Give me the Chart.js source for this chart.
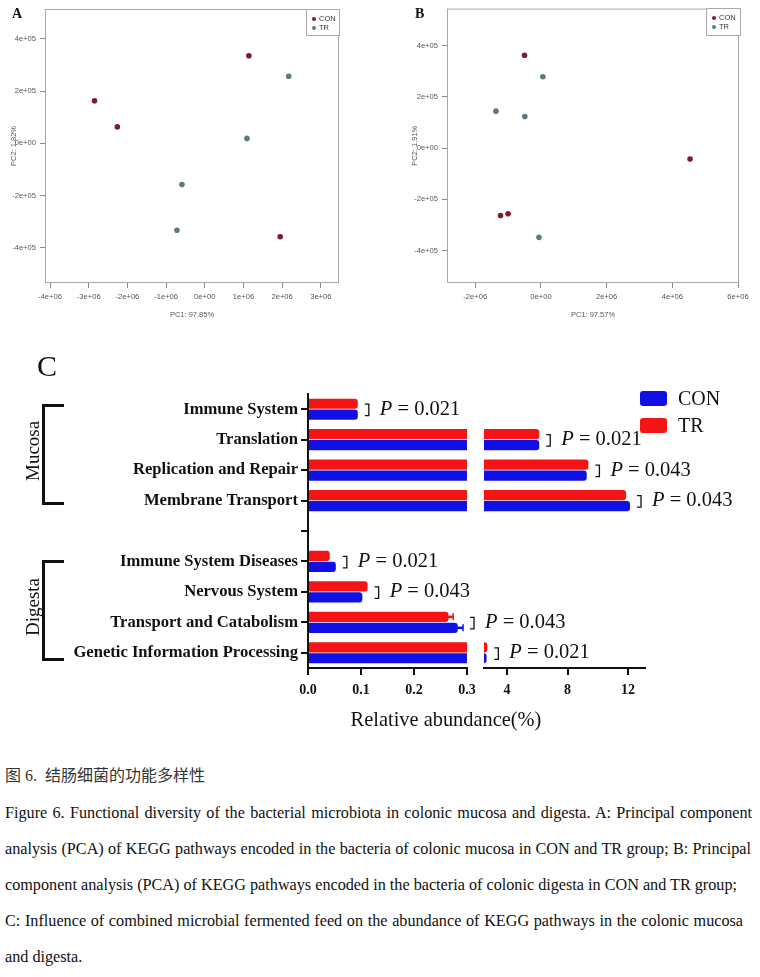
<!DOCTYPE html>
<html><head><meta charset="utf-8">
<script src="https://cdn.jsdelivr.net/npm/chart.js@4.4.0/dist/chart.umd.min.js"></script>
<style>
html,body{margin:0;padding:0;background:#fff;}
body{width:760px;height:977px;position:relative;overflow:hidden;font-family:"Liberation Serif","Times New Roman",serif;color:#111;}
.abs{position:absolute;}
canvas{display:block;}
.lg{position:absolute;background:#fff;border:1px solid #aaa;font-family:"Liberation Sans",Arial,sans-serif;font-size:7.5px;color:#333;}
.lg .it{position:absolute;left:0;height:9px;line-height:9px;white-space:nowrap;}
.lg .dot{position:absolute;width:4px;height:4px;border-radius:50%;top:2.5px;}
.cap{position:absolute;left:5px;white-space:nowrap;font-size:16.2px;line-height:20px;color:#111;text-align:justify;text-align-last:justify;}
</style></head><body>

<div class="abs" style="left:0;top:0;"><canvas id="cA" width="380" height="330" style="width:380px;height:330px"></canvas></div>
<div class="abs" style="left:380px;top:0;"><canvas id="cB" width="380" height="330" style="width:380px;height:330px"></canvas></div>
<div class="abs" style="left:0;top:380px;"><canvas id="cCL" width="760" height="365" style="width:760px;height:365px"></canvas></div>
<div class="abs" style="left:0;top:380px;"><canvas id="cCR" width="760" height="365" style="width:760px;height:365px"></canvas></div>

<!-- panel letters -->
<div class="abs" style="left:12px;top:6px;font-weight:bold;font-size:14px;">A</div>
<div class="abs" style="left:415px;top:6px;font-weight:bold;font-size:14px;">B</div>
<div class="abs" style="left:37px;top:349px;font-size:30px;">C</div>

<!-- PCA legends -->
<div class="lg" style="left:306px;top:9px;width:32px;height:25px;">
  <div class="dot" style="left:5px;top:7px;background:#7d1b2f"></div><div class="it" style="left:12px;top:4px">CON</div>
  <div class="dot" style="left:5px;top:16px;background:#5d7a82"></div><div class="it" style="left:12px;top:13px">TR</div>
</div>
<div class="lg" style="left:706px;top:8px;width:33px;height:26px;">
  <div class="dot" style="left:5px;top:7px;background:#7d1b2f"></div><div class="it" style="left:12px;top:4px">CON</div>
  <div class="dot" style="left:5px;top:16px;background:#5d7a82"></div><div class="it" style="left:12px;top:13px">TR</div>
</div>

<!-- Panel C legend -->
<div class="abs" style="left:640px;top:391px;width:27px;height:15px;background:#1010e6;border-radius:3px;"></div>
<div class="abs" style="left:678px;top:386px;font-size:20px;line-height:24px;">CON</div>
<div class="abs" style="left:640px;top:418px;width:27px;height:15px;background:#f51414;border-radius:3px;"></div>
<div class="abs" style="left:678px;top:413px;font-size:20px;line-height:24px;">TR</div>

<!-- group brackets -->
<div class="abs" style="left:42px;top:404px;width:19px;height:95px;border:3px solid #111;border-right:none;"></div>
<div class="abs" style="left:4px;top:440px;width:58px;height:24px;transform:rotate(-90deg);transform-origin:50% 50%;font-size:19px;line-height:24px;text-align:center;">Mucosa</div>
<div class="abs" style="left:42px;top:560px;width:19px;height:95px;border:3px solid #111;border-right:none;"></div>
<div class="abs" style="left:-1px;top:595px;width:68px;height:24px;transform:rotate(-90deg);transform-origin:50% 50%;font-size:19px;line-height:24px;text-align:center;">Digesta</div>

<!-- x title for C -->
<div class="abs" style="left:346px;top:706px;width:200px;text-align:center;font-size:20.4px;line-height:26px;">Relative abundance(%)</div>

<!-- caption -->
<div class="abs" style="left:5px;top:766px;white-space:nowrap;font-size:16px;line-height:20px;color:#333;font-family:'Liberation Serif','Noto Sans CJK SC',serif;">图 6.&nbsp; 结肠细菌的功能多样性</div>
<div class="cap" style="top:803px;width:747px;">Figure 6. Functional diversity of the bacterial microbiota in colonic mucosa and digesta. A: Principal component</div>
<div class="cap" style="top:839px;width:746px;">analysis (PCA) of KEGG pathways encoded in the bacteria of colonic mucosa in CON and TR group; B: Principal</div>
<div class="cap" style="top:875px;width:732px;">component analysis (PCA) of KEGG pathways encoded in the bacteria of colonic digesta in CON and TR group;</div>
<div class="cap" style="top:911px;width:738px;">C: Influence of combined microbial fermented feed on the abundance of KEGG pathways in the colonic mucosa</div>
<div class="cap" style="top:947px;text-align-last:auto;">and digesta.</div>

<script>
// ---------- Panel A: PCA of mucosa ----------
const pcaA_conX = [-2.85e6, -2.26e6, 1.14e6, 1.95e6];
const pcaA_conY = [1.63e5, 0.63e5, 3.35e5, -3.57e5];
const pcaA_trX  = [2.17e6, 1.09e6, -0.59e6, -0.72e6];
const pcaA_trY  = [2.57e5, 0.19e5, -1.57e5, -3.32e5];
const pcaA_xTicks = [-4e6, -3e6, -2e6, -1e6, 0, 1e6, 2e6, 3e6];
const pcaA_yTicks = [-4e5, -2e5, 0, 2e5, 4e5];

// ---------- Panel B: PCA of digesta ----------
const pcaB_conX = [-0.50e6, 4.54e6, -1.23e6, -1.00e6];
const pcaB_conY = [3.62e5, -0.43e5, -2.63e5, -2.56e5];
const pcaB_trX  = [0.06e6, -1.37e6, -0.49e6, -0.06e6];
const pcaB_trY  = [2.78e5, 1.44e5, 1.23e5, -3.48e5];
const pcaB_xTicks = [-2e6, 0, 2e6, 4e6, 6e6];
const pcaB_yTicks = [-4e5, -2e5, 0, 2e5, 4e5];

// ---------- Panel C: KEGG relative abundance (%) ----------
const keggCategories = ['Immune System', 'Translation', 'Replication and Repair', 'Membrane Transport', '',
  'Immune System Diseases', 'Nervous System', 'Transport and Catabolism', 'Genetic Information Processing'];
const trValues  = [0.094, 6.13, 9.38, 11.87, null, 0.041, 0.1125, 0.265, 2.70];
const conValues = [0.094, 6.13, 9.27, 12.13, null, 0.0525, 0.1025, 0.2825, 2.65];
const trErrors  = [null, null, null, null, null, null, null, 0.009, null];
const conErrors = [null, null, null, null, null, null, null, 0.010, null];
const pValues   = ['0.021', '0.021', '0.043', '0.043', null, '0.021', '0.043', '0.043', '0.021'];
const xTicksLow  = [0, 0.1, 0.2, 0.3];
const xTicksHigh = [4, 8, 12];
const splitAt = 0.3;

const COL_CON_PT = '#7d1b2f', COL_TR_PT = '#5d7a82';
const COL_CON_BAR = '#1010e6', COL_TR_BAR = '#f51414';

function rfmt(v) {
  if (v === 0) return '0e+00';
  const e = Math.floor(Math.log10(Math.abs(v)) + 1e-9);
  const m = Math.round(v / Math.pow(10, e));
  return m + 'e+' + String(e).padStart(2, '0');
}

const boxPlugin = {
  id: 'rbox',
  beforeDatasetsDraw(chart) {
    const { ctx, chartArea: a } = chart;
    ctx.save();
    ctx.strokeStyle = '#a8a8a8';
    ctx.lineWidth = 1;
    ctx.strokeRect(a.left + 0.5, a.top + 0.5, a.right - a.left - 1, a.bottom - a.top - 1);
    ctx.restore();
  }
};

function pcaChart(id, W, H, area, conX, conY, trX, trY, xTicks, yTicks, xr, yr, xTitle, yTitle, yTitlePad) {
  const pts = (xs, ys) => xs.map((x, i) => ({ x: x, y: ys[i] }));
  const tickFont = { family: 'Liberation Sans', size: 7.6 };
  return new Chart(document.getElementById(id), {
    type: 'scatter',
    data: {
      datasets: [
        { label: 'CON', data: pts(conX, conY), backgroundColor: COL_CON_PT, pointRadius: 2.8, pointHoverRadius: 2.8, borderWidth: 0 },
        { label: 'TR', data: pts(trX, trY), backgroundColor: COL_TR_PT, pointRadius: 2.8, pointHoverRadius: 2.8, borderWidth: 0 }
      ]
    },
    options: {
      responsive: false, animation: false, events: [],
      layout: { padding: { left: 0, top: area.top, right: W - area.right, bottom: 0 } },
      plugins: { legend: { display: false }, tooltip: { enabled: false } },
      scales: {
        x: {
          type: 'linear', min: xr[0], max: xr[1],
          afterBuildTicks: s => { s.ticks = xTicks.map(v => ({ value: v })); },
          afterFit: s => { s.height = H - area.bottom; },
          ticks: { callback: v => rfmt(v), font: tickFont, color: '#555', padding: 4, maxRotation: 0, autoSkip: false },
          grid: { drawOnChartArea: false, tickLength: 5, color: '#8a8a8a' },
          border: { display: false },
          title: { display: true, text: xTitle, font: { family: 'Liberation Sans', size: 7.5 }, color: '#555', padding: { top: 0, bottom: 11 } }
        },
        y: {
          type: 'linear', min: yr[0], max: yr[1],
          afterBuildTicks: s => { s.ticks = yTicks.map(v => ({ value: v })); },
          afterFit: s => { s.width = area.left; },
          ticks: { callback: v => rfmt(v), font: tickFont, color: '#555', padding: 4, autoSkip: false },
          grid: { drawOnChartArea: false, tickLength: 5, color: '#8a8a8a' },
          border: { display: false },
          title: { display: true, text: yTitle, font: { family: 'Liberation Sans', size: 7.5 }, color: '#555', padding: { top: yTitlePad, bottom: 0 } }
        }
      }
    },
    plugins: [boxPlugin]
  });
}

pcaChart('cA', 380, 330, { left: 45, top: 9, right: 339, bottom: 283 },
  pcaA_conX, pcaA_conY, pcaA_trX, pcaA_trY, pcaA_xTicks, pcaA_yTicks,
  [-4.13e6, 3.47e6], [-5.34e5, 5.14e5], 'PC1: 97.85%', 'PC2: 1.82%', 9);
pcaChart('cB', 380, 330, { left: 67, top: 8, right: 359, bottom: 283 },
  pcaB_conX, pcaB_conY, pcaB_trX, pcaB_trY, pcaB_xTicks, pcaB_yTicks,
  [-2.86e6, 6.03e6], [-5.26e5, 5.44e5], 'PC1: 97.57%', 'PC2: 1.91%', 30);

// ---------- broken-axis bar chart ----------
const errPlugin = {
  id: 'errbars',
  afterDatasetsDraw(chart) {
    const { ctx, chartArea: a } = chart;
    const xs = chart.scales.x;
    ctx.save();
    ctx.beginPath(); ctx.rect(a.left, a.top - 20, a.right - a.left, a.bottom - a.top + 40); ctx.clip();
    chart.data.datasets.forEach((ds, di) => {
      const meta = chart.getDatasetMeta(di);
      ds.errors.forEach((e, i) => {
        if (e == null || ds.data[i] == null) return;
        const bar = meta.data[i];
        const x0 = xs.getPixelForValue(ds.data[i]) - 2;
        const x1 = xs.getPixelForValue(ds.data[i] + e);
        ctx.strokeStyle = ds.backgroundColor;
        ctx.lineWidth = 2.5;
        ctx.beginPath(); ctx.moveTo(x0, bar.y); ctx.lineTo(x1, bar.y); ctx.stroke();
        ctx.lineWidth = 1.5;
        ctx.beginPath(); ctx.moveTo(x1, bar.y - 3.5); ctx.lineTo(x1, bar.y + 3.5); ctx.stroke();
      });
    });
    ctx.restore();
  }
};

const pPlugin = {
  id: 'pann',
  afterDraw(chart, args, opts) {
    const { ctx } = chart;
    const xs = chart.scales.x, ys = chart.scales.y;
    keggCategories.forEach((c, i) => {
      if (pValues[i] == null) return;
      const isLow = Math.max(trValues[i], conValues[i]) <= splitAt;
      if (isLow !== opts.low) return;
      const end = Math.max(trValues[i] + (trErrors[i] || 0), conValues[i] + (conErrors[i] || 0));
      const x = xs.getPixelForValue(end) + 11;
      const y = ys.getPixelForValue(i);
      ctx.save();
      ctx.strokeStyle = '#111'; ctx.lineWidth = 1.3;
      ctx.beginPath();
      ctx.moveTo(x - 4, y - 5); ctx.lineTo(x, y - 5); ctx.lineTo(x, y + 6.5); ctx.lineTo(x - 4, y + 6.5);
      ctx.stroke();
      ctx.fillStyle = '#111'; ctx.textBaseline = 'middle'; ctx.textAlign = 'left';
      ctx.font = 'italic 20.5px "Liberation Serif"';
      ctx.fillText('P', x + 11, y);
      const w = ctx.measureText('P').width;
      ctx.font = '20.5px "Liberation Serif"';
      ctx.fillText(' = ' + pValues[i], x + 11 + w, y);
      ctx.restore();
    });
  }
};

function keggChart(id, low) {
  const W = 760, H = 365;
  const areaTop = 14, areaBottom = 288;
  const left = low ? 308 : 484, right = low ? 467 : 645;
  const tickFont = { family: 'Liberation Serif', size: 14, weight: 'bold' };
  const barCommon = { categoryPercentage: 0.72, barPercentage: 0.93, borderRadius: 3, borderSkipped: 'start', clip: 0, borderWidth: 0 };
  return new Chart(document.getElementById(id), {
    type: 'bar',
    data: {
      labels: keggCategories,
      datasets: [
        Object.assign({ label: 'TR', data: trValues, errors: trErrors, backgroundColor: COL_TR_BAR }, barCommon),
        Object.assign({ label: 'CON', data: conValues, errors: conErrors, backgroundColor: COL_CON_BAR }, barCommon)
      ]
    },
    options: {
      indexAxis: 'y', responsive: false, animation: false, events: [],
      layout: { padding: { left: low ? 0 : left, top: areaTop, right: W - right, bottom: 0 } },
      plugins: { legend: { display: false }, tooltip: { enabled: false }, pann: { low: low } },
      scales: {
        x: {
          type: 'linear', min: low ? 0 : 2.48, max: low ? splitAt : 13.12,
          afterBuildTicks: s => { s.ticks = (low ? xTicksLow : xTicksHigh).map(v => ({ value: v })); },
          afterFit: s => { s.height = H - areaBottom; },
          ticks: { callback: v => low ? v.toFixed(1) : String(v), font: tickFont, color: '#111', padding: 7, maxRotation: 0, autoSkip: false },
          grid: { drawOnChartArea: false, tickLength: 7, color: '#111', lineWidth: 2 },
          border: { display: true, color: '#111', width: 2 }
        },
        y: {
          type: 'category', display: low,
          afterFit: s => { s.width = low ? left : 0; },
          ticks: { font: { family: 'Liberation Serif', size: 16.6, weight: 'bold' }, color: '#111', padding: 3, autoSkip: false },
          grid: { drawOnChartArea: false, offset: false, tickLength: 7, color: '#111', lineWidth: 2 },
          border: { display: true, color: '#111', width: 2 }
        }
      }
    },
    plugins: low ? [errPlugin, pPlugin] : [pPlugin]
  });
}

keggChart('cCL', true);
keggChart('cCR', false);
</script>
</body></html>
